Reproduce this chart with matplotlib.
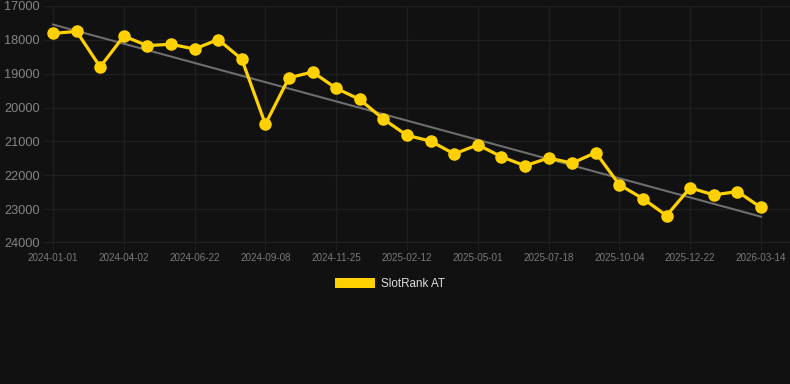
import matplotlib
matplotlib.use("Agg")
import matplotlib.pyplot as plt
from matplotlib.patches import Patch
import numpy as np

plt.rcParams['font.family'] = ['Liberation Sans', 'DejaVu Sans']

# rank values, one point per sample (y axis is inverted: lower rank is better)
ranks = [17810, 17750, 18800, 17890, 18170, 18130, 18270, 17990, 18570, 20490,
         19120, 18950, 19430, 19760, 20340, 20820, 20990, 21370, 21100, 21450,
         21720, 21490, 21640, 21330, 22280, 22690, 23190, 22370, 22580, 22480,
         22950]
tick_labels = ["2024-01-01", "2024-04-02", "2024-06-22", "2024-09-08", "2024-11-25",
               "2025-02-12", "2025-05-01", "2025-07-18", "2025-10-04", "2025-12-22",
               "2026-03-14"]
y_ticks = [17000, 18000, 19000, 20000, 21000, 22000, 23000, 24000]
series_name = "SlotRank AT"

bg = "#111111"
grid_col = "#1f1f1f"
yellow = "#FFD100"

x = np.arange(len(ranks))
slope, icpt = np.polyfit(x, ranks, 1)
trend = slope * x + icpt

fig = plt.figure(figsize=(7.9, 3.84), dpi=100, facecolor=bg)
ax = fig.add_axes([44 / 790, 1 - 243 / 384, 746 / 790, 237 / 384])
ax.set_facecolor(bg)

ax.plot(x, trend, color="#6e6e6e", lw=1.5, zorder=2)
ax.plot(x, ranks, color=yellow, lw=2.3, marker="o", ms=8, zorder=3)

ax.set_ylim(24000, 17000)
ax.set_xlim(-0.38, 31.23)
ax.set_yticks(y_ticks)
ax.set_xticks(x[::3])
ax.set_xticklabels(tick_labels)

ax.grid(True, color=grid_col, lw=1)
for s in ax.spines.values():
    s.set_visible(False)
ax.axhline(24000, color="#2a2a2a", lw=1.2, zorder=1)

ax.tick_params(axis="y", length=0, pad=3, labelsize=9.2, labelcolor="#858585")
ax.tick_params(axis="x", length=5, color=grid_col, pad=2, labelsize=7.1, labelcolor="#7a7a7a")

fig.legend(handles=[Patch(facecolor=yellow, edgecolor="none", label=series_name)],
           loc="center", bbox_to_anchor=(390 / 790, 1 - 284 / 384),
           frameon=False, fontsize=8.4, labelcolor="#dddddd",
           handlelength=3.4, handleheight=0.95, handletextpad=0.5)

fig.savefig("out.png", dpi=100, facecolor=bg)
